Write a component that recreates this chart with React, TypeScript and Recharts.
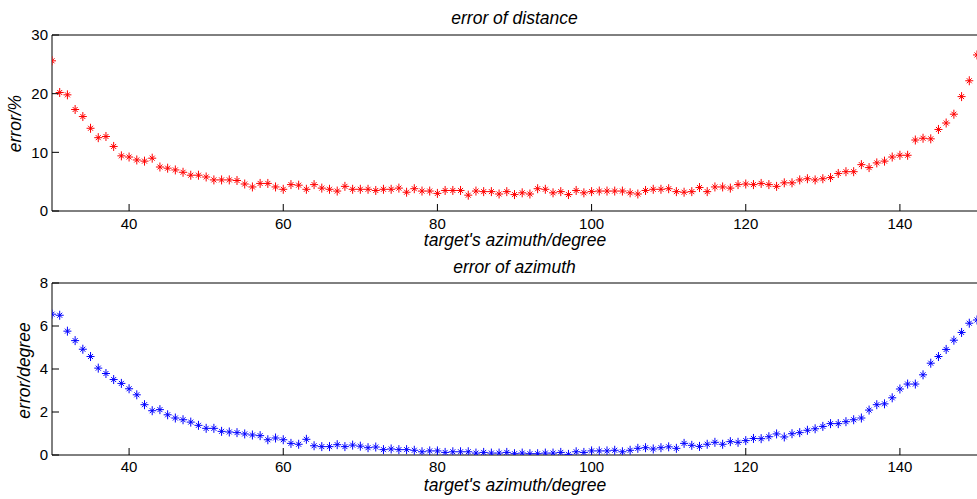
import { ScatterChart, Scatter, XAxis, YAxis } from "recharts";

const azimuth = [
  30, 31, 32, 33, 34, 35, 36, 37, 38, 39, 40, 41, 42, 43, 44, 45, 46, 47, 48, 49,
  50, 51, 52, 53, 54, 55, 56, 57, 58, 59, 60, 61, 62, 63, 64, 65, 66, 67, 68, 69,
  70, 71, 72, 73, 74, 75, 76, 77, 78, 79, 80, 81, 82, 83, 84, 85, 86, 87, 88, 89,
  90, 91, 92, 93, 94, 95, 96, 97, 98, 99, 100, 101, 102, 103, 104, 105, 106, 107, 108, 109,
  110, 111, 112, 113, 114, 115, 116, 117, 118, 119, 120, 121, 122, 123, 124, 125, 126, 127, 128, 129,
  130, 131, 132, 133, 134, 135, 136, 137, 138, 139, 140, 141, 142, 143, 144, 145, 146, 147, 148, 149,
  150,
];

// error of distance, %
const distanceError = [
  25.6, 20.2, 19.8, 17.3, 16.1, 14.1, 12.5, 12.7, 11.0, 9.4, 9.2, 8.7, 8.5, 9.0, 7.5, 7.3, 7.0, 6.6, 6.1, 6.1,
  5.8, 5.3, 5.3, 5.3, 5.2, 4.6, 4.1, 4.7, 4.7, 4.1, 3.7, 4.5, 4.4, 3.7, 4.5, 3.9, 3.7, 3.4, 4.2, 3.7,
  3.7, 3.7, 3.5, 3.7, 3.7, 3.9, 3.2, 3.8, 3.4, 3.4, 3.0, 3.5, 3.5, 3.5, 2.7, 3.4, 3.3, 3.3, 2.9, 3.3,
  2.8, 3.1, 2.9, 3.8, 3.7, 3.1, 3.3, 2.8, 3.5, 3.1, 3.3, 3.4, 3.4, 3.4, 3.4, 3.1, 2.9, 3.5, 3.7, 3.7,
  3.8, 3.3, 3.2, 3.3, 4.0, 3.3, 4.1, 4.1, 3.9, 4.5, 4.6, 4.5, 4.7, 4.5, 4.2, 4.8, 4.8, 5.3, 5.5, 5.3,
  5.5, 5.7, 6.4, 6.7, 6.7, 7.9, 7.4, 8.2, 8.5, 9.2, 9.5, 9.5, 12.1, 12.4, 12.3, 13.9, 15.0, 16.5, 19.5, 22.2,
  26.6,
];

// error of azimuth, degree
const azimuthError = [
  6.55, 6.5, 5.76, 5.32, 4.92, 4.58, 4.04, 3.79, 3.51, 3.33, 3.08, 2.8, 2.34, 2.06, 2.11, 1.87, 1.72, 1.64, 1.53, 1.38,
  1.24, 1.24, 1.1, 1.07, 1.04, 0.98, 0.93, 0.9, 0.71, 0.79, 0.71, 0.54, 0.5, 0.73, 0.43, 0.39, 0.39, 0.48, 0.39, 0.46,
  0.41, 0.34, 0.37, 0.25, 0.28, 0.25, 0.25, 0.22, 0.15, 0.19, 0.19, 0.12, 0.15, 0.15, 0.15, 0.09, 0.12, 0.09, 0.09, 0.12,
  0.06, 0.09, 0.06, 0.06, 0.09, 0.09, 0.12, 0.03, 0.15, 0.12, 0.19, 0.19, 0.19, 0.22, 0.15, 0.22, 0.31, 0.34, 0.28, 0.34,
  0.38, 0.31, 0.54, 0.45, 0.4, 0.5, 0.59, 0.5, 0.62, 0.59, 0.67, 0.77, 0.76, 0.85, 0.98, 0.84, 0.99, 1.04, 1.15, 1.22,
  1.33, 1.46, 1.46, 1.55, 1.64, 1.72, 2.09, 2.34, 2.38, 2.66, 3.07, 3.3, 3.3, 3.73, 4.27, 4.58, 4.91, 5.34, 5.7, 6.13,
  6.28,
];

const xTicks = [40, 60, 80, 100, 120, 140];
const distanceTicks = [0, 10, 20, 30];
const azimuthTicks = [0, 2, 4, 6, 8];

const FONT = "'Liberation Sans', Arial, Helvetica, sans-serif";

const distanceData = azimuth.map((x, i) => ({ x, y: distanceError[i] }));
const azimuthData = azimuth.map((x, i) => ({ x, y: azimuthError[i] }));

// matlab-ish '*' marker
const star = (color: string) => (props: any) => {
  const { cx, cy } = props;
  if (cx == null || cy == null) return <g />;
  const d =
    `M${cx - 4},${cy}H${cx + 4}` +
    `M${cx},${cy - 4.5}V${cy + 4.5}` +
    `M${cx - 2.5},${cy - 2.5}L${cx + 2.5},${cy + 2.5}` +
    `M${cx - 2.5},${cy + 2.5}L${cx + 2.5},${cy - 2.5}`;
  return <path d={d} stroke={color} strokeWidth={1} fill="none" />;
};

interface PanelProps {
  data: Array<{ x: number; y: number }>;
  color: string;
  yMax: number;
  yTicks: number[];
  height: number;
  marginTop: number;
  marginBottom: number;
  xTickMargin: number;
}

function Panel({ data, color, yMax, yTicks, height, marginTop, marginBottom, xTickMargin }: PanelProps) {
  const tickStyle = { fill: "#000", fontSize: 15, fontFamily: FONT };
  return (
    <ScatterChart
      width={978}
      height={height}
      margin={{ top: marginTop, right: 0, bottom: marginBottom, left: 0 }}
    >
      <XAxis
        xAxisId="b"
        dataKey="x"
        type="number"
        domain={[30, 150]}
        ticks={xTicks}
        interval={0}
        allowDataOverflow
        height={30}
        tickSize={-7}
        tickMargin={xTickMargin}
        stroke="#000"
        tick={tickStyle}
      />
      <XAxis
        xAxisId="t"
        orientation="top"
        dataKey="x"
        type="number"
        domain={[30, 150]}
        ticks={xTicks}
        interval={0}
        allowDataOverflow
        height={1}
        tickSize={-7}
        stroke="#000"
        tick={false}
      />
      <YAxis
        yAxisId="l"
        dataKey="y"
        type="number"
        domain={[0, yMax]}
        ticks={yTicks}
        interval={0}
        allowDataOverflow
        width={52}
        tickSize={-7}
        tickMargin={11}
        stroke="#000"
        tick={tickStyle}
      />
      <YAxis
        yAxisId="r"
        orientation="right"
        dataKey="y"
        type="number"
        domain={[0, yMax]}
        ticks={yTicks}
        interval={0}
        allowDataOverflow
        width={1}
        tickSize={-7}
        stroke="#000"
        axisLine={false}
        tick={false}
      />
      <Scatter
        data={data}
        xAxisId="b"
        yAxisId="l"
        fill={color}
        shape={star(color)}
        isAnimationActive={false}
      />
    </ScatterChart>
  );
}

export default function App() {
  const labelStyle = { fontFamily: FONT, fontSize: 17.5, fontStyle: "italic" as const, fill: "#000" };
  return (
    <div
      style={{
        position: "absolute",
        left: 0,
        top: 0,
        width: 977,
        height: 499,
        overflow: "hidden",
        background: "#fff",
      }}
    >
      <div style={{ position: "absolute", left: 0, top: 0 }}>
        <Panel
          data={distanceData}
          color="#ff0000"
          yMax={30}
          yTicks={distanceTicks}
          height={250}
          marginTop={34}
          marginBottom={9}
          xTickMargin={14}
        />
      </div>
      <div style={{ position: "absolute", left: 0, top: 250 }}>
        <Panel
          data={azimuthData}
          color="#0000ff"
          yMax={8}
          yTicks={azimuthTicks}
          height={249}
          marginTop={32}
          marginBottom={14}
          xTickMargin={13}
        />
      </div>
      <svg
        width={977}
        height={499}
        style={{ position: "absolute", left: 0, top: 0, pointerEvents: "none" }}
      >
        <text x={514.5} y={24} textAnchor="middle" style={labelStyle}>
          error of distance
        </text>
        <text x={515} y={246} textAnchor="middle" style={labelStyle}>
          target's azimuth/degree
        </text>
        <text x={21} y={123.5} textAnchor="middle" transform="rotate(-90 21 123.5)" style={labelStyle}>
          error/%
        </text>
        <text x={514.5} y={273} textAnchor="middle" style={labelStyle}>
          error of azimuth
        </text>
        <text x={515} y={491} textAnchor="middle" style={labelStyle}>
          target's azimuth/degree
        </text>
        <text x={30} y={370.5} textAnchor="middle" transform="rotate(-90 30 370.5)" style={labelStyle}>
          error/degree
        </text>
      </svg>
    </div>
  );
}
